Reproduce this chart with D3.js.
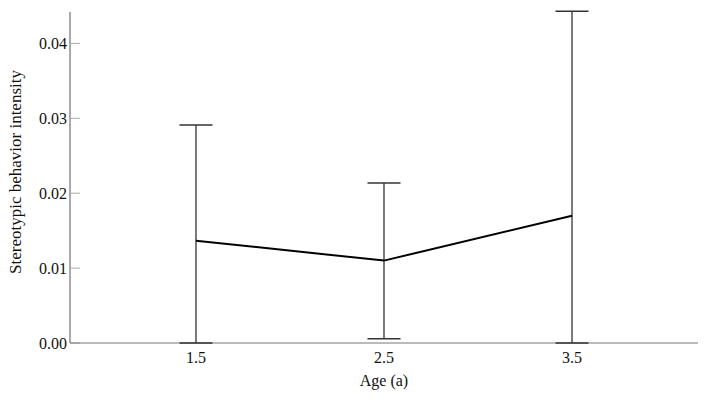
<!DOCTYPE html>
<html>
<head>
<meta charset="utf-8">
<script src="https://cdn.jsdelivr.net/npm/d3@7"></script>
<style>
  body { margin: 0; background: #fff; }
  svg text { font-family: "Liberation Serif", "Times New Roman", serif; }
</style>
</head>
<body>
<div id="chart"></div>
<script>
// data
var ages = ['1.5', '2.5', '3.5'];
var means = [0.01366, 0.0110, 0.0170];
var upper = [0.0291, 0.02135, 0.0443];
var lower = [0.0, 0.00058, 0.0];
var yTicks = [0, 0.01, 0.02, 0.03, 0.04];

var width = 706, height = 404;
var margin = {left: 70, right: 8, top: 12, bottom: 61};

var svg = d3.select('#chart').append('svg')
  .attr('width', width).attr('height', height);

var x = d3.scalePoint().domain(ages)
  .range([margin.left, width - margin.right]).padding(0.67);
var y = d3.scaleLinear().domain([0, 0.0444])
  .range([height - margin.bottom, height - margin.bottom - 0.0444 * 7490]);

// y axis, ticks pointing into the plot
var yAxis = svg.append('g')
  .attr('transform', 'translate(' + margin.left + ',0)');
yAxis.append('line')
  .attr('x1', 0).attr('x2', 0)
  .attr('y1', margin.top).attr('y2', y(0))
  .attr('stroke', '#555').attr('stroke-width', 1);
yAxis.selectAll('.tick').data(yTicks).enter().append('g')
  .attr('class', 'tick')
  .each(function(d) {
    var g = d3.select(this);
    g.append('line')
      .attr('x1', 0).attr('x2', 10)
      .attr('y1', y(d)).attr('y2', y(d))
      .attr('stroke', '#aaa');
    g.append('text')
      .attr('x', -3).attr('y', y(d)).attr('dy', '0.35em')
      .attr('text-anchor', 'end')
      .style('font-size', '16px').style('fill', '#111')
      .text(d3.format('.2f')(d));
  });

// x axis
var xAxis = svg.append('g');
xAxis.append('line')
  .attr('x1', margin.left).attr('x2', width - margin.right)
  .attr('y1', y(0)).attr('y2', y(0))
  .attr('stroke', '#777').attr('stroke-width', 1);
xAxis.selectAll('text').data(ages).enter().append('text')
  .attr('x', function(d) { return x(d); })
  .attr('y', y(0) + 20)
  .attr('text-anchor', 'middle')
  .style('font-size', '16px').style('fill', '#111')
  .text(function(d) { return d; });

// axis titles
svg.append('text')
  .attr('x', x('2.5')).attr('y', 386)
  .attr('text-anchor', 'middle')
  .style('font-size', '16px').style('fill', '#111')
  .text('Age (a)');
svg.append('text')
  .attr('transform', 'translate(21,' + 172 + ') rotate(-90)')
  .attr('text-anchor', 'middle')
  .style('font-size', '17px').style('fill', '#111')
  .text('Stereotypic behavior intensity');

// error bars
var capHalf = 16.5;
var bars = svg.append('g').attr('class', 'errorbars')
  .selectAll('g').data(ages).enter().append('g');
bars.append('line')
  .attr('x1', function(d) { return x(d); }).attr('x2', function(d) { return x(d); })
  .attr('y1', function(d, i) { return y(upper[i]); })
  .attr('y2', function(d, i) { return y(lower[i]); })
  .attr('stroke', '#333').attr('stroke-width', 1.3);
bars.append('line')
  .attr('x1', function(d) { return x(d) - capHalf; }).attr('x2', function(d) { return x(d) + capHalf; })
  .attr('y1', function(d, i) { return y(upper[i]); })
  .attr('y2', function(d, i) { return y(upper[i]); })
  .attr('stroke', '#333').attr('stroke-width', 1.5);
bars.append('line')
  .attr('x1', function(d) { return x(d) - capHalf; }).attr('x2', function(d) { return x(d) + capHalf; })
  .attr('y1', function(d, i) { return y(lower[i]); })
  .attr('y2', function(d, i) { return y(lower[i]); })
  .attr('stroke', '#333').attr('stroke-width', 1.5);

// mean line
var line = d3.line()
  .x(function(d, i) { return x(ages[i]); })
  .y(function(d) { return y(d); });
svg.append('path')
  .datum(means)
  .attr('d', line)
  .attr('fill', 'none')
  .attr('stroke', '#000')
  .attr('stroke-width', 2);
</script>
</body>
</html>
